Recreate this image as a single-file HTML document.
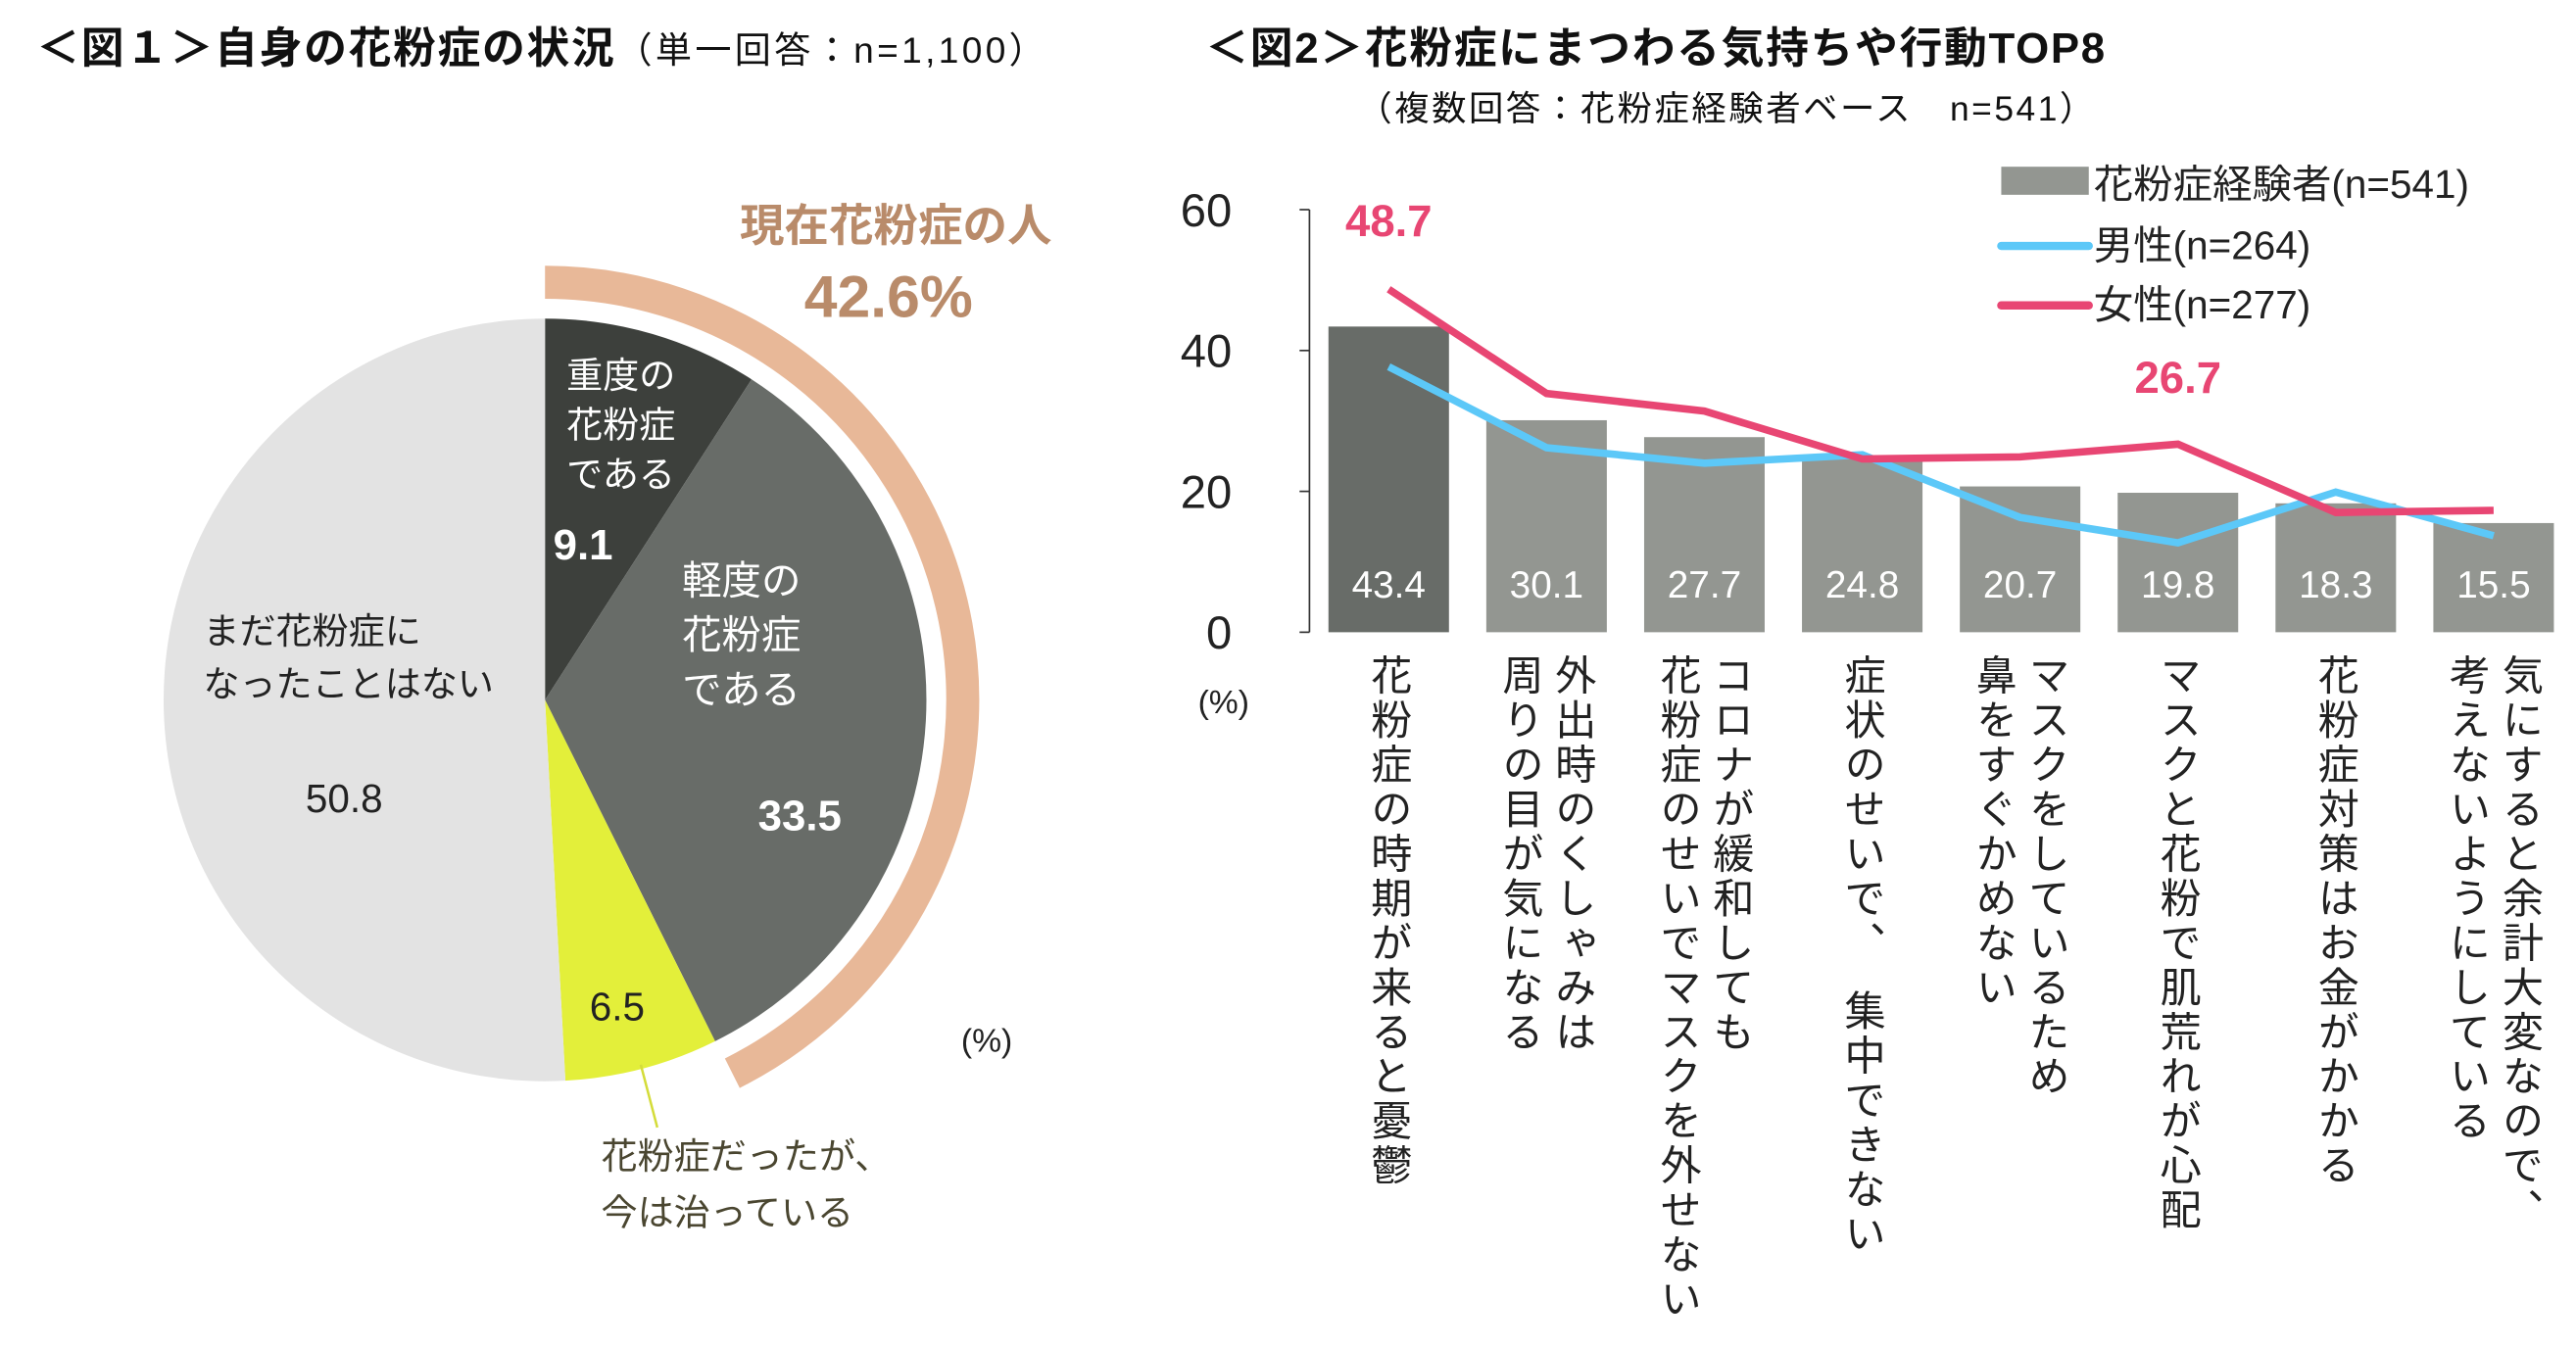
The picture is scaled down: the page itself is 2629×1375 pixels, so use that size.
<!DOCTYPE html>
<html><head><meta charset="utf-8"><style>
html,body{margin:0;padding:0;background:#fff;}
svg{display:block;font-family:"Liberation Sans","Noto Sans CJK JP",sans-serif;}
.v{writing-mode:vertical-rl;font-size:25px;fill:#222;letter-spacing:2px;}
</style></head><body>
<svg id="s" width="2629" height="1375" viewBox="0 0 1560 816" xmlns="http://www.w3.org/2000/svg">
<g>
<text x="22" y="38" font-size="26" font-weight="bold" fill="#111" letter-spacing="1">＜図１＞自身の花粉症の状況<tspan font-size="22" font-weight="normal" letter-spacing="2">（単一回答：n=1,100）</tspan></text>
</g>
<g>
<text x="730" y="38" font-size="26" font-weight="bold" fill="#111" letter-spacing="1">＜図2＞花粉症にまつわる気持ちや行動TOP8</text>
<text x="822" y="73" font-size="21" fill="#111" letter-spacing="1.5">（複数回答：花粉症経験者ベース　n=541）</text>
</g>
<g id="pie"></g>
<g>
<text x="448" y="146" font-size="27" font-weight="bold" fill="#b98b6a">現在花粉症の人</text>
<text x="487" y="192" font-size="36" font-weight="bold" fill="#b98b6a">42.6%</text>
<g fill="#fff" font-size="22">
<text x="343" y="235">重度の</text><text x="343" y="265">花粉症</text><text x="343" y="295">である</text>
<text x="335" y="339" font-size="26" font-weight="bold">9.1</text>
<text x="413" y="360" font-size="24">軽度の</text><text x="413" y="393" font-size="24">花粉症</text><text x="413" y="426" font-size="24">である</text>
<text x="459" y="503" font-size="26" font-weight="bold">33.5</text>
</g>
<g fill="#222" font-size="22">
<text x="123" y="390">まだ花粉症に</text><text x="123" y="422">なったことはない</text>
<text x="185" y="492" font-size="24">50.8</text>
<text x="357" y="618" font-size="24">6.5</text>
<text x="582" y="637" font-size="20">(%)</text>
</g>
<line x1="388" y1="645" x2="398" y2="683" stroke="#d4dc3a" stroke-width="1.5"/>
<text x="364" y="708" font-size="22" fill="#4a4630">花粉症だったが、</text>
<text x="364" y="742" font-size="22" fill="#4a4630">今は治っている</text>
</g>
<g id="bar"></g>
<g>
<rect x="1212" y="101" width="53" height="17" fill="#939691"/>
<text x="1268" y="120" font-size="24" fill="#222">花粉症経験者(n=541)</text>
<line x1="1212" y1="149" x2="1265" y2="149" stroke="#5cc8f8" stroke-width="5" stroke-linecap="round"/>
<text x="1268" y="157" font-size="24" fill="#222">男性(n=264)</text>
<line x1="1212" y1="185" x2="1265" y2="185" stroke="#e84673" stroke-width="5" stroke-linecap="round"/>
<text x="1268" y="193" font-size="24" fill="#222">女性(n=277)</text>
</g>
</svg>
<script>
const pieLabels=['重度','軽度','治った','なし'];
const pieValues=[9.1,33.5,6.5,50.8];
const pieColors=['#3d403c','#686c68','#e3ef3a','#e3e3e3'];
const currentPct=42.6;

const categories=['花粉症の時期が来ると憂鬱','外出時のくしゃみは周りの目が気になる','コロナが緩和しても花粉症のせいでマスクを外せない','症状のせいで、集中できない','マスクをしているため鼻をすぐかめない','マスクと花粉で肌荒れが心配','花粉症対策はお金がかかる','気にすると余計大変なので、考えないようにしている'];
const labelLines=[['花粉症の時期が来ると憂鬱'],['外出時のくしゃみは','周りの目が気になる'],['コロナが緩和しても','花粉症のせいでマスクを外せない'],['症状のせいで、　集中できない'],['マスクをしているため','鼻をすぐかめない'],['マスクと花粉で肌荒れが心配'],['花粉症対策はお金がかかる'],['気にすると余計大変なので、','考えないようにしている']];
const totalValues=[43.4,30.1,27.7,24.8,20.7,19.8,18.3,15.5];
const maleValues=[37.7,26.2,24.0,25.2,16.3,12.7,19.9,13.7];
const femaleValues=[48.7,33.9,31.4,24.6,24.9,26.7,17.0,17.3];
const yTicks=[0,20,40,60];
const calloutIdx=[0,5];

const NS='http://www.w3.org/2000/svg';
function mk(p,t,a){const e=document.createElementNS(NS,t);for(const k in a)e.setAttribute(k,a[k]);p.appendChild(e);return e;}

const pie=document.getElementById('pie');
const cx=330,cy=424,r=231;
function pt(rad,frac){const a=frac*2*Math.PI;return [cx+rad*Math.sin(a),cy-rad*Math.cos(a)];}
let acc=0;const tot=pieValues.reduce((a,b)=>a+b,0);
pieValues.forEach((v,i)=>{
  const f0=acc/tot,f1=(acc+v)/tot;acc+=v;
  const [x0,y0]=pt(r,f0),[x1,y1]=pt(r,f1);
  const p=mk(pie,'path',{d:`M${cx},${cy}L${x0},${y0}A${r},${r} 0 ${f1-f0>0.5?1:0} 1 ${x1},${y1}Z`,fill:pieColors[i]});
  
  
});
{const rr=253,f=currentPct/100;const [x0,y0]=pt(rr,0),[x1,y1]=pt(rr,f);
const a=mk(pie,'path',{d:`M${x0},${y0}A${rr},${rr} 0 ${f>0.5?1:0} 1 ${x1},${y1}`,fill:'none',stroke:'#e8b898','stroke-width':20});

}

const g=document.getElementById('bar');
const y0p=383,yTop=127,vMax=60,axX=793,step=95.6,bw=73,firstC=841;
const Y=v=>y0p-(v/vMax)*(y0p-yTop);
const X=i=>firstC+i*step;
mk(g,'line',{x1:axX,y1:yTop,x2:axX,y2:y0p,stroke:'#333','stroke-width':1});
yTicks.forEach(t=>{
  const l=mk(g,'line',{x1:axX-6,y1:Y(t),x2:axX,y2:Y(t),stroke:'#333','stroke-width':1});
  
  
  const tx=mk(g,'text',{x:746,y:Y(t)+10,'text-anchor':'end','font-size':28,fill:'#222'});tx.textContent=t;
  
  
});
{const u=mk(g,'text',{x:741,y:432,'text-anchor':'middle','font-size':20,fill:'#222'});u.textContent='(%)';

}
totalValues.forEach((v,i)=>{
  const b=mk(g,'rect',{x:X(i)-bw/2,y:Y(v),width:bw,height:y0p-Y(v),fill:i===0?'#686c68':'#939691'});
  
  
  const t=mk(g,'text',{x:X(i),y:362,'text-anchor':'middle','font-size':23,fill:'#fff'});t.textContent=v.toFixed(1);
  
  
  const lines=labelLines[i];
  lines.forEach((s,j)=>{
    const off=lines.length===1?0:(j===0?16:-16);
    const c=mk(g,'text',{x:X(i)+off,y:396,class:'v'});c.textContent=s;
    
    
  });
});
function line(vals,col,name){
  const p=mk(g,'polyline',{points:vals.map((v,i)=>X(i)+','+Y(v)).join(' '),fill:'none',stroke:col,'stroke-width':4.5,'stroke-linejoin':'miter'});
  
  
}
line(maleValues,'#5cc8f8','male-line');
line(femaleValues,'#e84673','female-line');
calloutIdx.forEach(i=>{
  const t=mk(g,'text',{x:X(i),y:i===0?143:238,'text-anchor':'middle','font-size':27,'font-weight':'bold',fill:'#e84673'});
  t.textContent=femaleValues[i].toFixed(1);
  
  
});
</script>
</body></html>
